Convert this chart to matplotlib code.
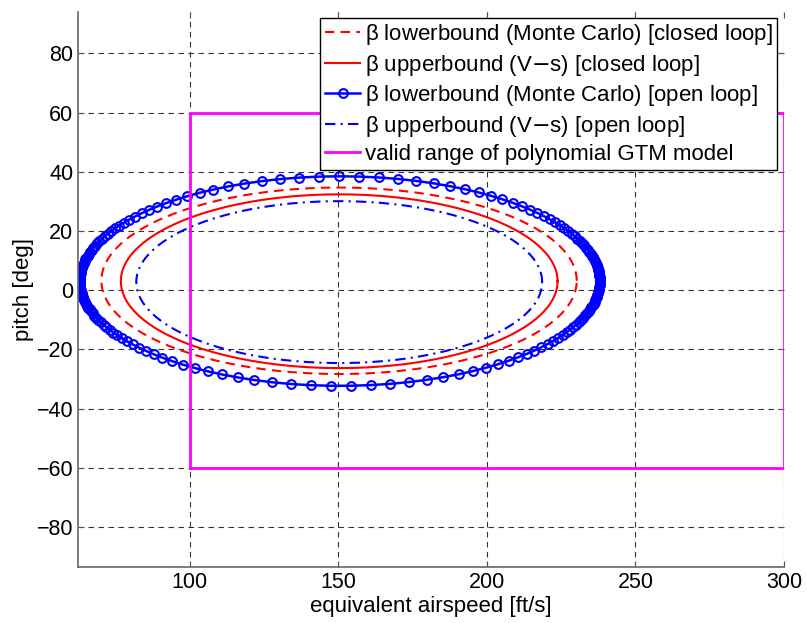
import numpy as np
import matplotlib
matplotlib.use("Agg")
import matplotlib.pyplot as plt

plt.rcParams['font.family'] = ['Liberation Sans', 'DejaVu Sans']

# ellipse estimates: centre (airspeed, pitch) and semi-axes
cl_lower_c, cl_lower_ax = (150.25, 3.2), (80.0, 31.5)     # closed loop, Monte Carlo
cl_upper_c, cl_upper_ax = (150.3, 3.05), (73.5, 29.35)    # closed loop, V-s
ol_lower_c, ol_lower_ax = (150.5, 3.1), (87.5, 35.4)      # open loop, Monte Carlo
ol_upper_c, ol_upper_ax = (150.3, 2.75), (68.3, 27.35)    # open loop, V-s

# the open loop Monte Carlo curve was traced by angle in scaled state space,
# so its markers bunch up at the ends
n_pts = 186
state_scale = 2.28
phase = 0.01

# valid range of the polynomial GTM model
valid_v = [100, 300, 300, 100, 100]
valid_pitch = [-60, -60, 60, 60, -60]

labels = [r"$\mathregular{\beta}$ lowerbound (Monte Carlo) [closed loop]",
          r"$\mathregular{\beta}$ upperbound (V$-$s) [closed loop]",
          r"$\mathregular{\beta}$ lowerbound (Monte Carlo) [open loop]",
          r"$\mathregular{\beta}$ upperbound (V$-$s) [open loop]",
          "valid range of polynomial GTM model"]


def ellipse(c, ax_len, n, k=1.0, ph=0.0):
    phi = np.linspace(0, 2 * np.pi, n) + ph
    t = np.arctan2(np.sin(phi), k * np.cos(phi))
    return c[0] + ax_len[0] * np.cos(t), c[1] + ax_len[1] * np.sin(t)


fig = plt.figure(figsize=(8.07, 6.23), dpi=100)
ax = fig.add_axes([0.0967, 0.0899, 0.8748, 0.8908])

x, y = ellipse(cl_lower_c, cl_lower_ax, 300)
ax.plot(x, y, color='red', lw=1.5, dashes=(4.5, 3), label=labels[0])
x, y = ellipse(cl_upper_c, cl_upper_ax, 300)
ax.plot(x, y, color='red', lw=1.5, label=labels[1])
x, y = ellipse(ol_lower_c, ol_lower_ax, n_pts, state_scale, phase)
ax.plot(x, y, color='blue', lw=1.8, marker='o', ms=6.3, mfc='none', mew=1.5,
        label=labels[2])
x, y = ellipse(ol_upper_c, ol_upper_ax, 300)
ax.plot(x, y, color='blue', lw=1.5, dashes=(5, 2.5, 1, 2.5), label=labels[3])
ax.plot(valid_v, valid_pitch, color='#ff00ff', lw=2, label=labels[4])

ax.set_xlim(62.4, 300)
ax.set_ylim(-93.5, 94)
ax.set_xticks([100, 150, 200, 250, 300])
ax.set_yticks(np.arange(-80, 81, 20))
ax.grid(True, color='black', lw=0.8, dashes=(5, 4), alpha=0.8)
ax.tick_params(direction='in', top=True, right=True, length=4, labelsize=15.5,
               color='#555555')
for s in ['top', 'right']:
    ax.spines[s].set_visible(False)
for s in ['left', 'bottom']:
    ax.spines[s].set_color('#666666')
    ax.spines[s].set_linewidth(1.2)

ax.set_xlabel("equivalent airspeed [ft/s]", fontsize=16, labelpad=2)
ax.set_ylabel("pitch [deg]", fontsize=16, labelpad=2)

leg = ax.legend(loc='upper right', bbox_to_anchor=(0.99, 0.99), fontsize=16,
                handlelength=1.6, handletextpad=0.2, borderpad=0.2,
                labelspacing=0.25, fancybox=False, framealpha=1,
                edgecolor='black', borderaxespad=0)
leg.get_frame().set_linewidth(1.0)

fig.savefig("out.png", dpi=100)
